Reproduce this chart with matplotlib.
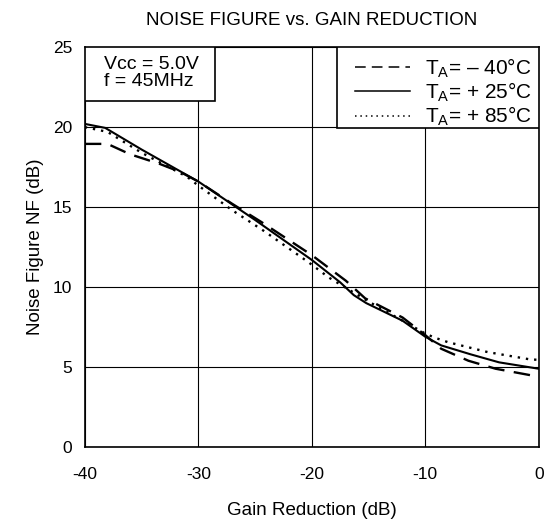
import matplotlib
matplotlib.use("Agg")
import matplotlib.pyplot as plt
from matplotlib.patches import Rectangle

plt.rcParams['font.family'] = ['Liberation Sans', 'DejaVu Sans']
plt.rcParams['mathtext.fontset'] = 'custom'
plt.rcParams['mathtext.rm'] = 'Liberation Sans'
plt.rcParams['mathtext.it'] = 'Liberation Sans'
plt.rcParams['axes.unicode_minus'] = False

# T_A = -40C
gr_m40 = [-40, -38, -36, -33.4, -31.6, -30, -27, -24.4, -20, -17, -15.3, -12, -10, -8.6, -6.2, -3.8, 0]
nf_m40 = [18.95, 18.95, 18.3, 17.7, 17.2, 16.6, 15.2, 14.05, 12.0, 10.4, 9.3, 8.1, 7.0, 6.15, 5.4, 4.9, 4.4]
# T_A = +25C
gr_25 = [-40, -38.2, -35, -30, -25, -20, -17.5, -16.3, -15.2, -12, -10, -8.6, -6, -3.5, 0]
nf_25 = [20.2, 19.95, 18.6, 16.6, 14.2, 11.7, 10.3, 9.5, 9.0, 7.9, 6.9, 6.36, 5.8, 5.3, 4.9]
# T_A = +85C
gr_85 = [-40, -38, -35, -31, -30.1, -27, -24.2, -20.3, -18.5, -15, -12, -10, -9.2, -8, -4.5, -0.9, 0]
nf_85 = [20.0, 19.7, 18.4, 16.9, 16.4, 14.8, 13.5, 11.56, 10.6, 9.1, 7.9, 7.1, 6.85, 6.56, 5.94, 5.5, 5.45]

labels = [r'T$_\mathrm{A}$= – 40°C', r'T$_\mathrm{A}$= + 25°C', r'T$_\mathrm{A}$= + 85°C']

fig = plt.figure(figsize=(5.47, 5.23), dpi=100)
ax = fig.add_axes([0.155, 0.145, 0.83, 0.765])

ax.plot(gr_m40, nf_m40, color='black', lw=1.7, dashes=(7, 4), label=labels[0])
ax.plot(gr_25, nf_25, color='black', lw=1.5, label=labels[1])
ax.plot(gr_85, nf_85, color='black', lw=1.7, dashes=(1, 2.5), label=labels[2])

ax.set_xlim(-40, 0)
ax.set_ylim(0, 25)
ax.set_xticks([-40, -30, -20, -10, 0])
ax.set_yticks([0, 5, 10, 15, 20, 25])
ax.grid(True, color='black', lw=0.8)
ax.tick_params(length=0, labelsize=12.5)
ax.tick_params(axis='x', pad=14)
ax.tick_params(axis='y', pad=9)
for s in ax.spines.values():
    s.set_linewidth(1.2)

ax.set_xlabel('Gain Reduction (dB)', fontsize=13.5, labelpad=15)
ax.set_ylabel('Noise Figure NF (dB)', fontsize=13.5, labelpad=6)
ax.set_title('NOISE FIGURE vs. GAIN REDUCTION', fontsize=13.5, pad=16)

# legend box drawn as a patch, legend itself without frame
ax.add_patch(Rectangle((0.555, 0.7975), 0.445, 0.2025, transform=ax.transAxes,
                       facecolor='white', edgecolor='black', lw=1.2, zorder=5))
leg = ax.legend(loc='upper left', bbox_to_anchor=(0.595, 0.977), fontsize=15,
                handlelength=2.64, frameon=False, borderpad=0, labelspacing=0.05,
                borderaxespad=0, handletextpad=0.72)
leg.set_zorder(6)
for h in leg.legend_handles:
    h.set_linewidth(1.1)

# conditions box in the top left corner
ax.add_patch(Rectangle((0, 1 - 0.135), 0.286, 0.135, transform=ax.transAxes,
                       facecolor='white', edgecolor='black', lw=1.2, zorder=5))
ax.text(0.042, 0.934, 'Vcc = 5.0V\nf = 45MHz', transform=ax.transAxes, fontsize=14,
        va='center', ha='left', linespacing=1.0, zorder=6)

fig.savefig('out.png', dpi=100)
